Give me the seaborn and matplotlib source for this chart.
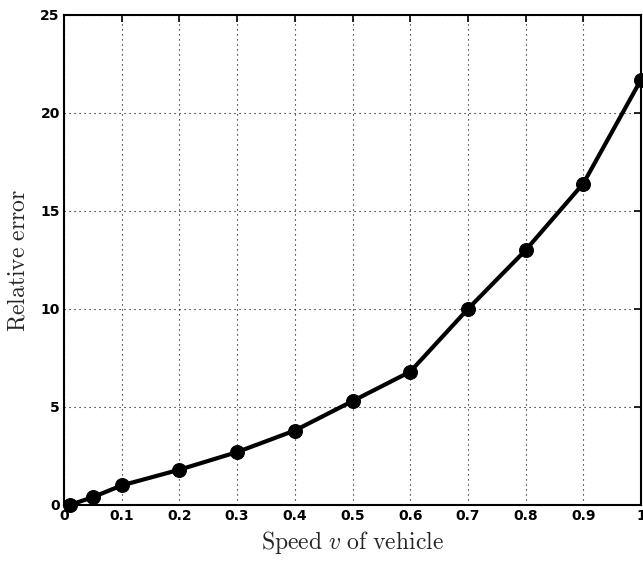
import matplotlib
matplotlib.use("Agg")
import matplotlib.pyplot as plt
import seaborn as sns
import pandas as pd

speed = [0.01, 0.05, 0.1, 0.2, 0.3, 0.4, 0.5, 0.6, 0.7, 0.8, 0.9, 1.0]
rel_error = [0.0, 0.4, 1.0, 1.8, 2.7, 3.8, 5.3, 6.8, 10.0, 13.0, 16.4, 21.7]
xticks = [0, 0.1, 0.2, 0.3, 0.4, 0.5, 0.6, 0.7, 0.8, 0.9, 1]
xticklabels = ["0", "0.1", "0.2", "0.3", "0.4", "0.5", "0.6", "0.7", "0.8", "0.9", "1"]
yticks = [0, 5, 10, 15, 20, 25]

df = pd.DataFrame({"speed": speed, "err": rel_error})

sns.set_style("white")
plt.rcParams["mathtext.fontset"] = "cm"
plt.rcParams["font.family"] = ["DejaVu Sans"]

fig = plt.figure(figsize=(6.43, 5.61), dpi=100)
ax = fig.add_axes([64/643, 56/561, 577/643, 490/561])

sns.lineplot(data=df, x="speed", y="err", ax=ax, color="black", lw=3,
             marker="o", markersize=10, markeredgecolor="black",
             markerfacecolor="black", zorder=3, clip_on=False)

ax.set_xlim(0, 1)
ax.set_ylim(0, 25)
ax.set_xticks(xticks)
ax.set_xticklabels(xticklabels)
ax.set_yticks(yticks)
ax.grid(True, color="black", linestyle=(0, (1, 3.5)), linewidth=0.8)
for s in ax.spines.values():
    s.set_visible(True)
    s.set_color("black")
    s.set_linewidth(1.5)
ax.tick_params(direction="in", length=5, width=1.2, colors="black",
               labelsize=10, pad=3, top=True, right=True)
for lab in ax.get_xticklabels() + ax.get_yticklabels():
    lab.set_fontweight("bold")

ax.set_xlabel(r"$\mathrm{Speed}\ v\ \mathrm{of\ vehicle}$", fontsize=17, labelpad=4)
ax.set_ylabel(r"$\mathrm{Relative\ error}$", fontsize=17, labelpad=8)

fig.savefig("out.png", dpi=100)
